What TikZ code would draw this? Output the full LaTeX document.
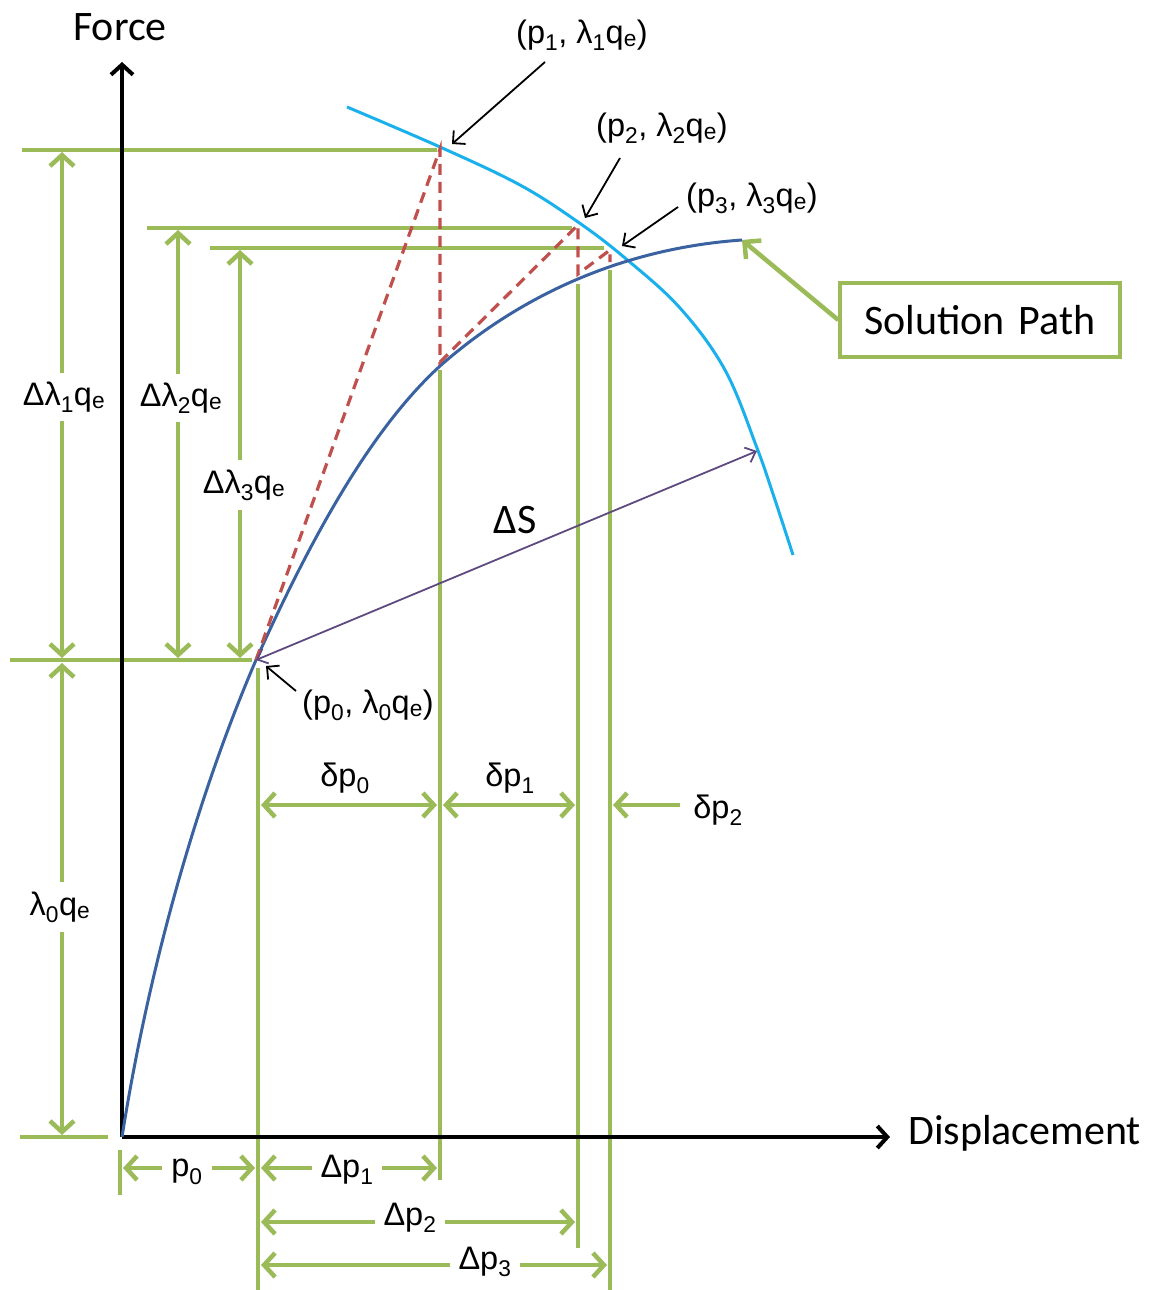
\documentclass[tikz,border=0pt]{standalone}
\usepackage{fontspec}
\setmainfont{Carlito}
\newfontfamily\arialf{Liberation Sans}
\usetikzlibrary{arrows.meta}
\definecolor{gr}{HTML}{9BBB59}
\definecolor{sol}{HTML}{3A62A0}
\definecolor{cy}{HTML}{1AB0EC}
\definecolor{rd}{HTML}{C0504D}
\definecolor{pu}{HTML}{5E4A80}
\newcommand\sbx[1]{\textsubscript{#1}}
\tikzset{
  bigtxt/.style={font=\fontsize{42}{48}\selectfont, inner sep=2pt},
  lab/.style={font=\arialf\fontsize{32.5}{36}\selectfont, inner sep=3pt},
  labw/.style={lab, fill=white, inner xsep=9pt, inner ysep=9pt},
  gline/.style={draw=gr, line width=4.5pt},
  gtip/.tip={Straight Barb[length=11pt,width=24pt]},
  gdim/.style={gline, gtip-gtip},
  gone/.style={gline, -gtip},
  axisline/.style={draw=black, line width=4pt, -{Straight Barb[length=10pt,width=22pt]}},
  callout/.style={draw=black, line width=1.8pt, -{Straight Barb[length=9pt,width=18pt]}},
  redd/.style={draw=rd, line width=3.2pt, dash pattern=on 11pt off 7pt},
}
\begin{document}
\begin{tikzpicture}[x=1pt,y=-1pt]
\useasboundingbox (0,0) rectangle (1157,1290);
% key points
\coordinate (O) at (122,1137);
\coordinate (Ytop) at (122,62);
\coordinate (Xend) at (890,1137);
\coordinate (P0) at (256,660);
\coordinate (P1) at (440,149);
\coordinate (C1) at (440,362);
\coordinate (P2) at (578,225);
\coordinate (C2) at (578,274);
\coordinate (P3) at (610,250);
\coordinate (C3) at (610,262);
\coordinate (B1) at (440,366);
\coordinate (Send) at (742,240);
\coordinate (Sarc) at (757,451);

% green horizontal reference lines
\draw[gline] (22,150) -- (437,150);
\draw[gline] (147,228) -- (572,228);
\draw[gline] (210,248) -- (604,248);
\draw[gline] (10,660) -- (252,660);
\draw[gline] (20,1137) -- (108,1137);

% green vertical reference lines
\draw[gline] (258,668) -- (258,1290);
\draw[gline] (440,370) -- (440,1180);
\draw[gline] (578,284) -- (578,1248);
\draw[gline] (610,270) -- (610,1290);
\draw[gline] (120,1150) -- (120,1195);

% vertical dimension arrows
\draw[gdim] (62,152) -- (62,658);
\node[labw] (dl1) at (64,397) {Δλ\sbx{1}q\sbx{e}};
\draw[gdim] (62,663) -- (62,1135);
\node[labw] (l0) at (60,907) {λ\sbx{0}q\sbx{e}};
\draw[gdim] (178,230) -- (178,658);
\node[labw] (dl2) at (181,398) {Δλ\sbx{2}q\sbx{e}};
\draw[gdim] (240,250) -- (240,658);
\node[labw, inner xsep=3pt] (dl3) at (244,485) {Δλ\sbx{3}q\sbx{e}};

% horizontal dimension arrows
\draw[gdim] (261,805) -- (437,805);
\node[lab] (dp0) at (345,778) {δp\sbx{0}};
\draw[gdim] (443,805) -- (575,805);
\node[lab] (dp1) at (510,778) {δp\sbx{1}};
\draw[gone] (680,805) -- (613,805);
\node[lab] (dp2) at (718,810) {δp\sbx{2}};

\draw[gdim] (123,1168) -- (255,1168);
\node[labw, inner ysep=3pt] (p0) at (187,1172) {p\sbx{0}};
\draw[gdim] (261,1168) -- (437,1168);
\node[labw, inner ysep=3pt] (Dp1) at (347,1170) {Δp\sbx{1}};
\draw[gdim] (261,1222) -- (575,1222);
\node[labw, inner ysep=3pt] (Dp2) at (410,1218) {Δp\sbx{2}};
\draw[gdim] (261,1265) -- (607,1265);
\node[labw, inner ysep=3pt] (Dp3) at (485,1262) {Δp\sbx{3}};

% axes
\draw[axisline] (O) -- (Ytop);
\draw[axisline] (O) -- (Xend);
\node[bigtxt] (force) at (120,27) {Force};
\node[bigtxt, anchor=west] (disp) at (906,1133) {Displacement};

% arc-length constraint (cyan)
\draw[cy, line width=3pt] plot[smooth, tension=0.6] coordinates {
  (347,107) (440,147) (520,185) (578,222) (625,258) (680,308) (725,370) (757,448) (775,500) (793,555)};

% solution path (dark blue)
\draw[sol, line width=3pt] (O) .. controls (150,960) and (200,790) .. (P0)
  .. controls (310,540) and (370,430) .. (B1)
  .. controls (500,313) and (600,250) .. (Send);

% iterations (red dashed)
\draw[redd] (P0) -- (P1) -- (C1) -- (P2) -- (C2) -- (P3) -- (C3);

% Delta S
\draw[pu, line width=1.8pt, {Straight Barb[length=9pt,width=16pt]}-{Straight Barb[length=9pt,width=16pt]}] (P0) -- (Sarc);
\node[bigtxt] (dS) at (515,520) {ΔS};

% callouts
\node[lab] (lp1) at (582,35) {(p\sbx{1}, λ\sbx{1}q\sbx{e})};
\node[lab] (lp2) at (662,128) {(p\sbx{2}, λ\sbx{2}q\sbx{e})};
\node[lab] (lp3) at (752,198) {(p\sbx{3}, λ\sbx{3}q\sbx{e})};
\node[lab] (lp0) at (368,705) {(p\sbx{0}, λ\sbx{0}q\sbx{e})};
\coordinate (a1) at (545,62);
\coordinate (a2) at (620,158);
\coordinate (a3) at (678,207);
\coordinate (a0) at (296,691);
\draw[callout] (a1) -- (452,144);
\draw[callout] (a2) -- (585,218);
\draw[callout] (a3) -- (622,246);
\draw[callout] (a0) -- (266,666);

% solution path label
\node[bigtxt, draw=gr, line width=3.5pt, minimum width=280pt, minimum height=74pt] (solbox) at (980,320) {Solution\,\,Path};
\draw[draw=gr, line width=4.5pt, -{Straight Barb[length=12pt,width=24pt]}] (solbox.west) -- (Send);
\end{tikzpicture}
\end{document}
